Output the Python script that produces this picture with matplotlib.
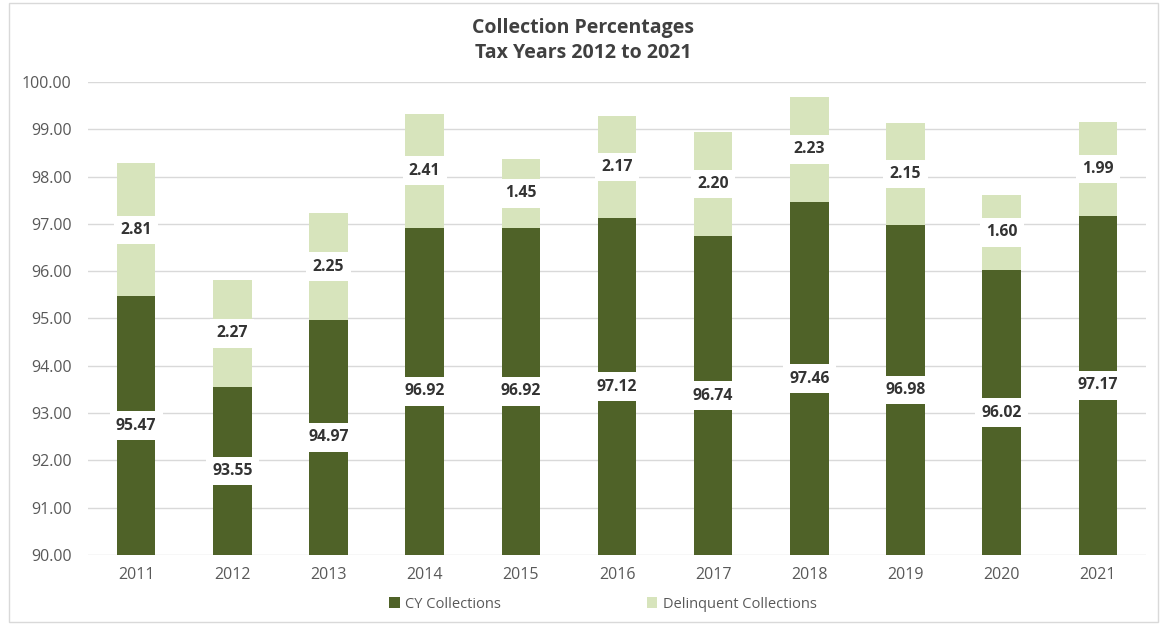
import matplotlib.pyplot as plt
import numpy as np
from matplotlib.patches import Rectangle

plt.rcParams['font.family'] = ['Open Sans', 'DejaVu Sans']

years = ['2011', '2012', '2013', '2014', '2015', '2016', '2017', '2018', '2019', '2020', '2021']
cy = [95.47, 93.55, 94.97, 96.92, 96.92, 97.12, 96.74, 97.46, 96.98, 96.02, 97.17]
delinquent = [2.81, 2.27, 2.25, 2.41, 1.45, 2.17, 2.20, 2.23, 2.15, 1.60, 1.99]

dark = '#4F6228'
light = '#D7E4BC'
base = 90.0

fig = plt.figure(figsize=(11.6, 6.24), dpi=100)
ax = fig.add_axes([0.0759, 0.1106, 0.912, 0.758])

x = np.arange(len(years))
cy_h = np.array(cy) - base
b1 = ax.bar(x, cy_h, bottom=base, width=0.4, color=dark, label='CY Collections', zorder=2)
b2 = ax.bar(x, delinquent, bottom=cy, width=0.4, color=light, label='Delinquent Collections', zorder=2)

# white boxed labels centred on each segment
box = dict(boxstyle='square,pad=0.4', facecolor='white', edgecolor='none')
for i in range(len(years)):
    ax.text(x[i], base + cy_h[i] / 2, f'{cy[i]:.2f}', ha='center', va='center',
            fontsize=11.3, fontweight='bold', color='#333333', bbox=box, zorder=3)
    ax.text(x[i], cy[i] + delinquent[i] / 2, f'{delinquent[i]:.2f}', ha='center', va='center',
            fontsize=11.3, fontweight='bold', color='#333333', bbox=box, zorder=3)

ax.set_ylim(90, 100)
ax.set_xlim(-0.5, len(years) - 0.5)
ax.set_yticks(np.arange(90, 100.1, 1))
ax.set_yticklabels([f'{v:.2f}' for v in np.arange(90, 100.1, 1)])
ax.set_xticks(x)
ax.set_xticklabels(years)
ax.tick_params(length=0, labelsize=11.5, labelcolor='#595959')
ax.tick_params(axis='y', pad=12)
ax.tick_params(axis='x', pad=9)
ax.grid(axis='y', color='#D9D9D9', linewidth=1, zorder=0)
for s in ax.spines.values():
    s.set_visible(False)

fig.text(0.503, 0.935, 'Collection Percentages\nTax Years 2012 to 2021', ha='center', va='center',
         fontsize=14, fontweight='bold', color='#404040', linespacing=1.35)

fig.legend(handles=[b1, b2], loc='center', bbox_to_anchor=(0.52, 0.032), ncol=2, frameon=False,
           fontsize=10.5, handlelength=0.7, handleheight=0.7, columnspacing=10, handletextpad=0.4,
           labelcolor='#595959')

fig.patches.append(Rectangle((0.008, 0.003), 0.99, 0.992, transform=fig.transFigure,
                             fill=False, edgecolor='#D9D9D9', linewidth=1))

fig.savefig('out.png', dpi=100)
